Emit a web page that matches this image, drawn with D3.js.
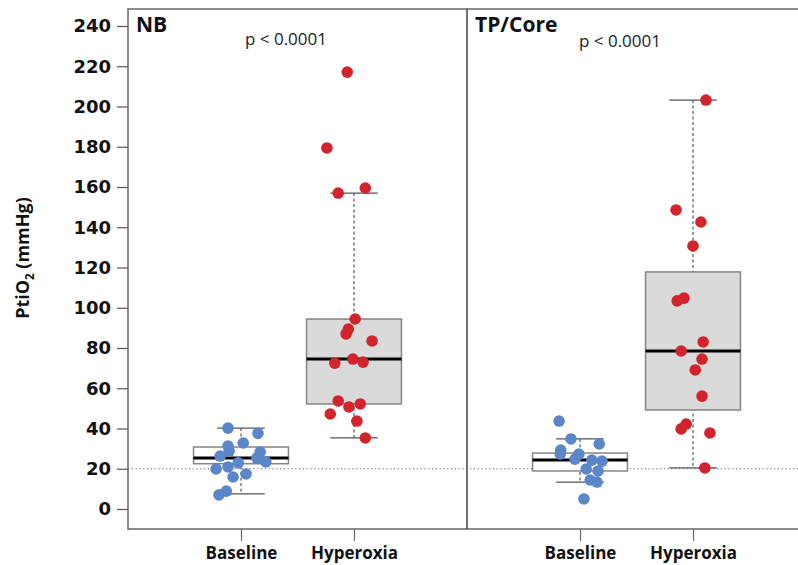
<!DOCTYPE html>
<html>
<head>
<meta charset="utf-8">
<script src="https://cdn.jsdelivr.net/npm/d3@7/dist/d3.min.js"></script>
<style>
  body { margin: 0; background: #fff; }
  svg { display: block; }
</style>
</head>
<body>
<svg id="chart" width="798" height="565"></svg>
<script>
// Panels and groups
const panels = ["NB", "TP/Core"];
const groups = ["Baseline", "Hyperoxia"];
const pLabels = ["p < 0.0001", "p < 0.0001"];
const yTicks = [0, 20, 40, 60, 80, 100, 120, 140, 160, 180, 200, 220, 240];
const refLine = 20;

// Individual PtiO2 readings (mmHg)
const nbBaseline = [40.2, 37.6, 31.3, 32.8, 28.8, 26.3, 28.3, 25.3, 23.4, 22.9, 19.9, 20.9, 15.9, 17.4, 8.9, 7.0];
const nbHyperoxia = [217.1, 179.4, 157, 159.5, 94.4, 89.4, 87, 83.5, 72.5, 74.5, 73, 53.7, 50.7, 52.2, 47.2, 43.7, 35.3];
const coreBaseline = [43.7, 34.8, 32.3, 29.3, 27.3, 27.3, 24.8, 24.3, 23.8, 19.9, 18.9, 14.4, 13.4, 5.0];
const coreHyperoxia = [203.2, 148.6, 142.6, 130.7, 103.4, 104.8, 83, 78.5, 74.5, 69.1, 56.1, 39.8, 42.2, 37.8, 20.4];

// Horizontal jitter of each reading, as a fraction of the group spacing
const nbBaselineJitter = [-0.115, 0.15, -0.115, 0.02, -0.105, -0.185, 0.17, 0.14, 0.22, -0.025, -0.22, -0.115, -0.07, 0.045, -0.13, -0.195];
const nbHyperoxiaJitter = [-0.06, -0.24, -0.14, 0.1, 0.01, -0.05, -0.07, 0.16, -0.17, -0.01, 0.08, -0.14, -0.045, 0.055, -0.21, 0.025, 0.1];
const coreBaselineJitter = [-0.185, -0.08, 0.17, -0.17, -0.175, -0.01, -0.045, 0.105, 0.195, 0.055, 0.16, 0.09, 0.15, 0.035];
const coreHyperoxiaJitter = [0.115, -0.15, 0.07, 0.0, -0.14, -0.08, 0.09, -0.105, 0.08, 0.02, 0.08, -0.105, -0.06, 0.15, 0.105];

// Box summaries: [lower whisker, Q1, median, Q3, upper whisker]
const nbBaselineBox = [7.5, 22.5, 25.3, 30.8, 40.2];
const nbHyperoxiaBox = [35.3, 52.2, 74.5, 94.4, 157];
const coreBaselineBox = [13.4, 18.9, 24.3, 27.8, 34.8];
const coreHyperoxiaBox = [20.4, 49.2, 78.5, 117.8, 203.2];

const series = [
  [
    { vals: nbBaseline, jit: nbBaselineJitter, box: nbBaselineBox },
    { vals: nbHyperoxia, jit: nbHyperoxiaJitter, box: nbHyperoxiaBox }
  ],
  [
    { vals: coreBaseline, jit: coreBaselineJitter, box: coreBaselineBox },
    { vals: coreHyperoxia, jit: coreHyperoxiaJitter, box: coreHyperoxiaBox }
  ]
];

const colors = { Baseline: "#5b86c9", Hyperoxia: "#d1242d" };
const boxFill = { Baseline: "#ffffff", Hyperoxia: "#dadada" };

const svg = d3.select("#chart");
const W = 798, H = 565;

const plotLeft = 128, panelW = 339, plotTop = 9, plotBottom = 529;
const y = d3.scaleLinear().domain([0, 240]).range([509, 26]);

const panelX = d3.scaleBand().domain(panels).range([plotLeft, plotLeft + panelW * 2]).padding(0);

// y axis
const yAxis = d3.axisLeft(y).tickValues(yTicks).tickSize(11).tickPadding(6);
const yg = svg.append("g").attr("transform", `translate(${plotLeft},0)`).call(yAxis);
yg.select(".domain").remove();
yg.selectAll(".tick line").attr("stroke", "#555").attr("stroke-width", 1.2);
yg.selectAll(".tick text")
  .attr("fill", "#111")
  .style("font-family", "'DejaVu Sans', sans-serif")
  .style("font-weight", "bold")
  .style("font-size", "18px");

// y title
const yt = svg.append("text")
  .attr("transform", "translate(29,258) rotate(-90)")
  .attr("text-anchor", "middle")
  .style("font-family", "'Open Sans', sans-serif")
  .style("font-weight", "bold")
  .style("font-size", "18px")
  .attr("fill", "#111");
yt.append("tspan").text("PtiO");
yt.append("tspan").text("2").attr("dy", 5).style("font-size", "11.5px");
yt.append("tspan").text(" (mmHg)").attr("dy", -5);

// reference line at 20 mmHg
svg.append("line")
  .attr("x1", plotLeft).attr("x2", W)
  .attr("y1", y(refLine)).attr("y2", y(refLine))
  .attr("stroke", "#666").attr("stroke-width", 1.1)
  .attr("stroke-dasharray", "1.2,2.6");

panels.forEach((p, pi) => {
  const x0 = panelX(p);
  const x = d3.scalePoint().domain(groups).range([x0, x0 + panelX.bandwidth()]).padding(1);
  const step = x.step();
  const g = svg.append("g");

  // x axis ticks and labels
  const xAxis = d3.axisBottom(x).tickSize(12).tickPadding(6);
  const xg = svg.append("g").attr("transform", `translate(0,${plotBottom})`).call(xAxis);
  xg.select(".domain").remove();
  xg.selectAll(".tick line").attr("stroke", "#666").attr("stroke-width", 1.2);
  xg.selectAll(".tick text")
    .attr("fill", "#111")
    .style("font-family", "'Open Sans', sans-serif")
    .style("font-weight", "bold")
    .style("font-size", "17px");

  const boxHalf = step * 0.42;
  const capHalf = step * 0.21;

  groups.forEach((grp, gi) => {
    const s = series[pi][gi];
    const cx = x(grp);
    const [lo, q1, med, q3, hi] = s.box;

    // whisker (dashed)
    g.append("line")
      .attr("x1", cx).attr("x2", cx)
      .attr("y1", y(hi)).attr("y2", y(lo))
      .attr("stroke", "#333").attr("stroke-width", 1)
      .attr("stroke-dasharray", "3,2.5");
    // caps
    [lo, hi].forEach(v => {
      g.append("line")
        .attr("x1", cx - capHalf).attr("x2", cx + capHalf)
        .attr("y1", y(v)).attr("y2", y(v))
        .attr("stroke", "#555").attr("stroke-width", 1.3);
    });
    // box
    g.append("rect")
      .attr("x", cx - boxHalf).attr("width", boxHalf * 2)
      .attr("y", y(q3)).attr("height", y(q1) - y(q3))
      .attr("fill", boxFill[grp])
      .attr("stroke", "#858585").attr("stroke-width", 1.5);
    // median
    g.append("line")
      .attr("x1", cx - boxHalf).attr("x2", cx + boxHalf)
      .attr("y1", y(med)).attr("y2", y(med))
      .attr("stroke", "#000").attr("stroke-width", 3);

    // points
    g.selectAll(null)
      .data(s.vals.map((v, i) => ({ v, j: s.jit[i] })))
      .enter().append("circle")
      .attr("cx", d => cx + d.j * step)
      .attr("cy", d => y(d.v))
      .attr("r", 5.8)
      .attr("fill", colors[grp]);
  });

  // panel title and p value
  svg.append("text")
    .attr("x", x0 + 8).attr("y", 32)
    .style("font-family", "'Open Sans', sans-serif")
    .style("font-weight", "bold")
    .style("font-size", "21px")
    .attr("fill", "#111")
    .text(p);
  svg.append("text")
    .attr("x", pi === 0 ? 286 : 620).attr("y", pi === 0 ? 45 : 47)
    .attr("text-anchor", "middle")
    .style("font-family", "'Open Sans', sans-serif")
    .style("font-size", "17px")
    .attr("fill", "#222")
    .text(pLabels[pi]);
});

// panel frames
svg.append("rect")
  .attr("x", plotLeft).attr("y", plotTop)
  .attr("width", panelW * 2).attr("height", plotBottom - plotTop)
  .attr("fill", "none").attr("stroke", "#666").attr("stroke-width", 1.5);
svg.append("line")
  .attr("x1", plotLeft + panelW).attr("x2", plotLeft + panelW)
  .attr("y1", plotTop).attr("y2", plotBottom)
  .attr("stroke", "#444").attr("stroke-width", 1.5);
</script>
</body>
</html>
